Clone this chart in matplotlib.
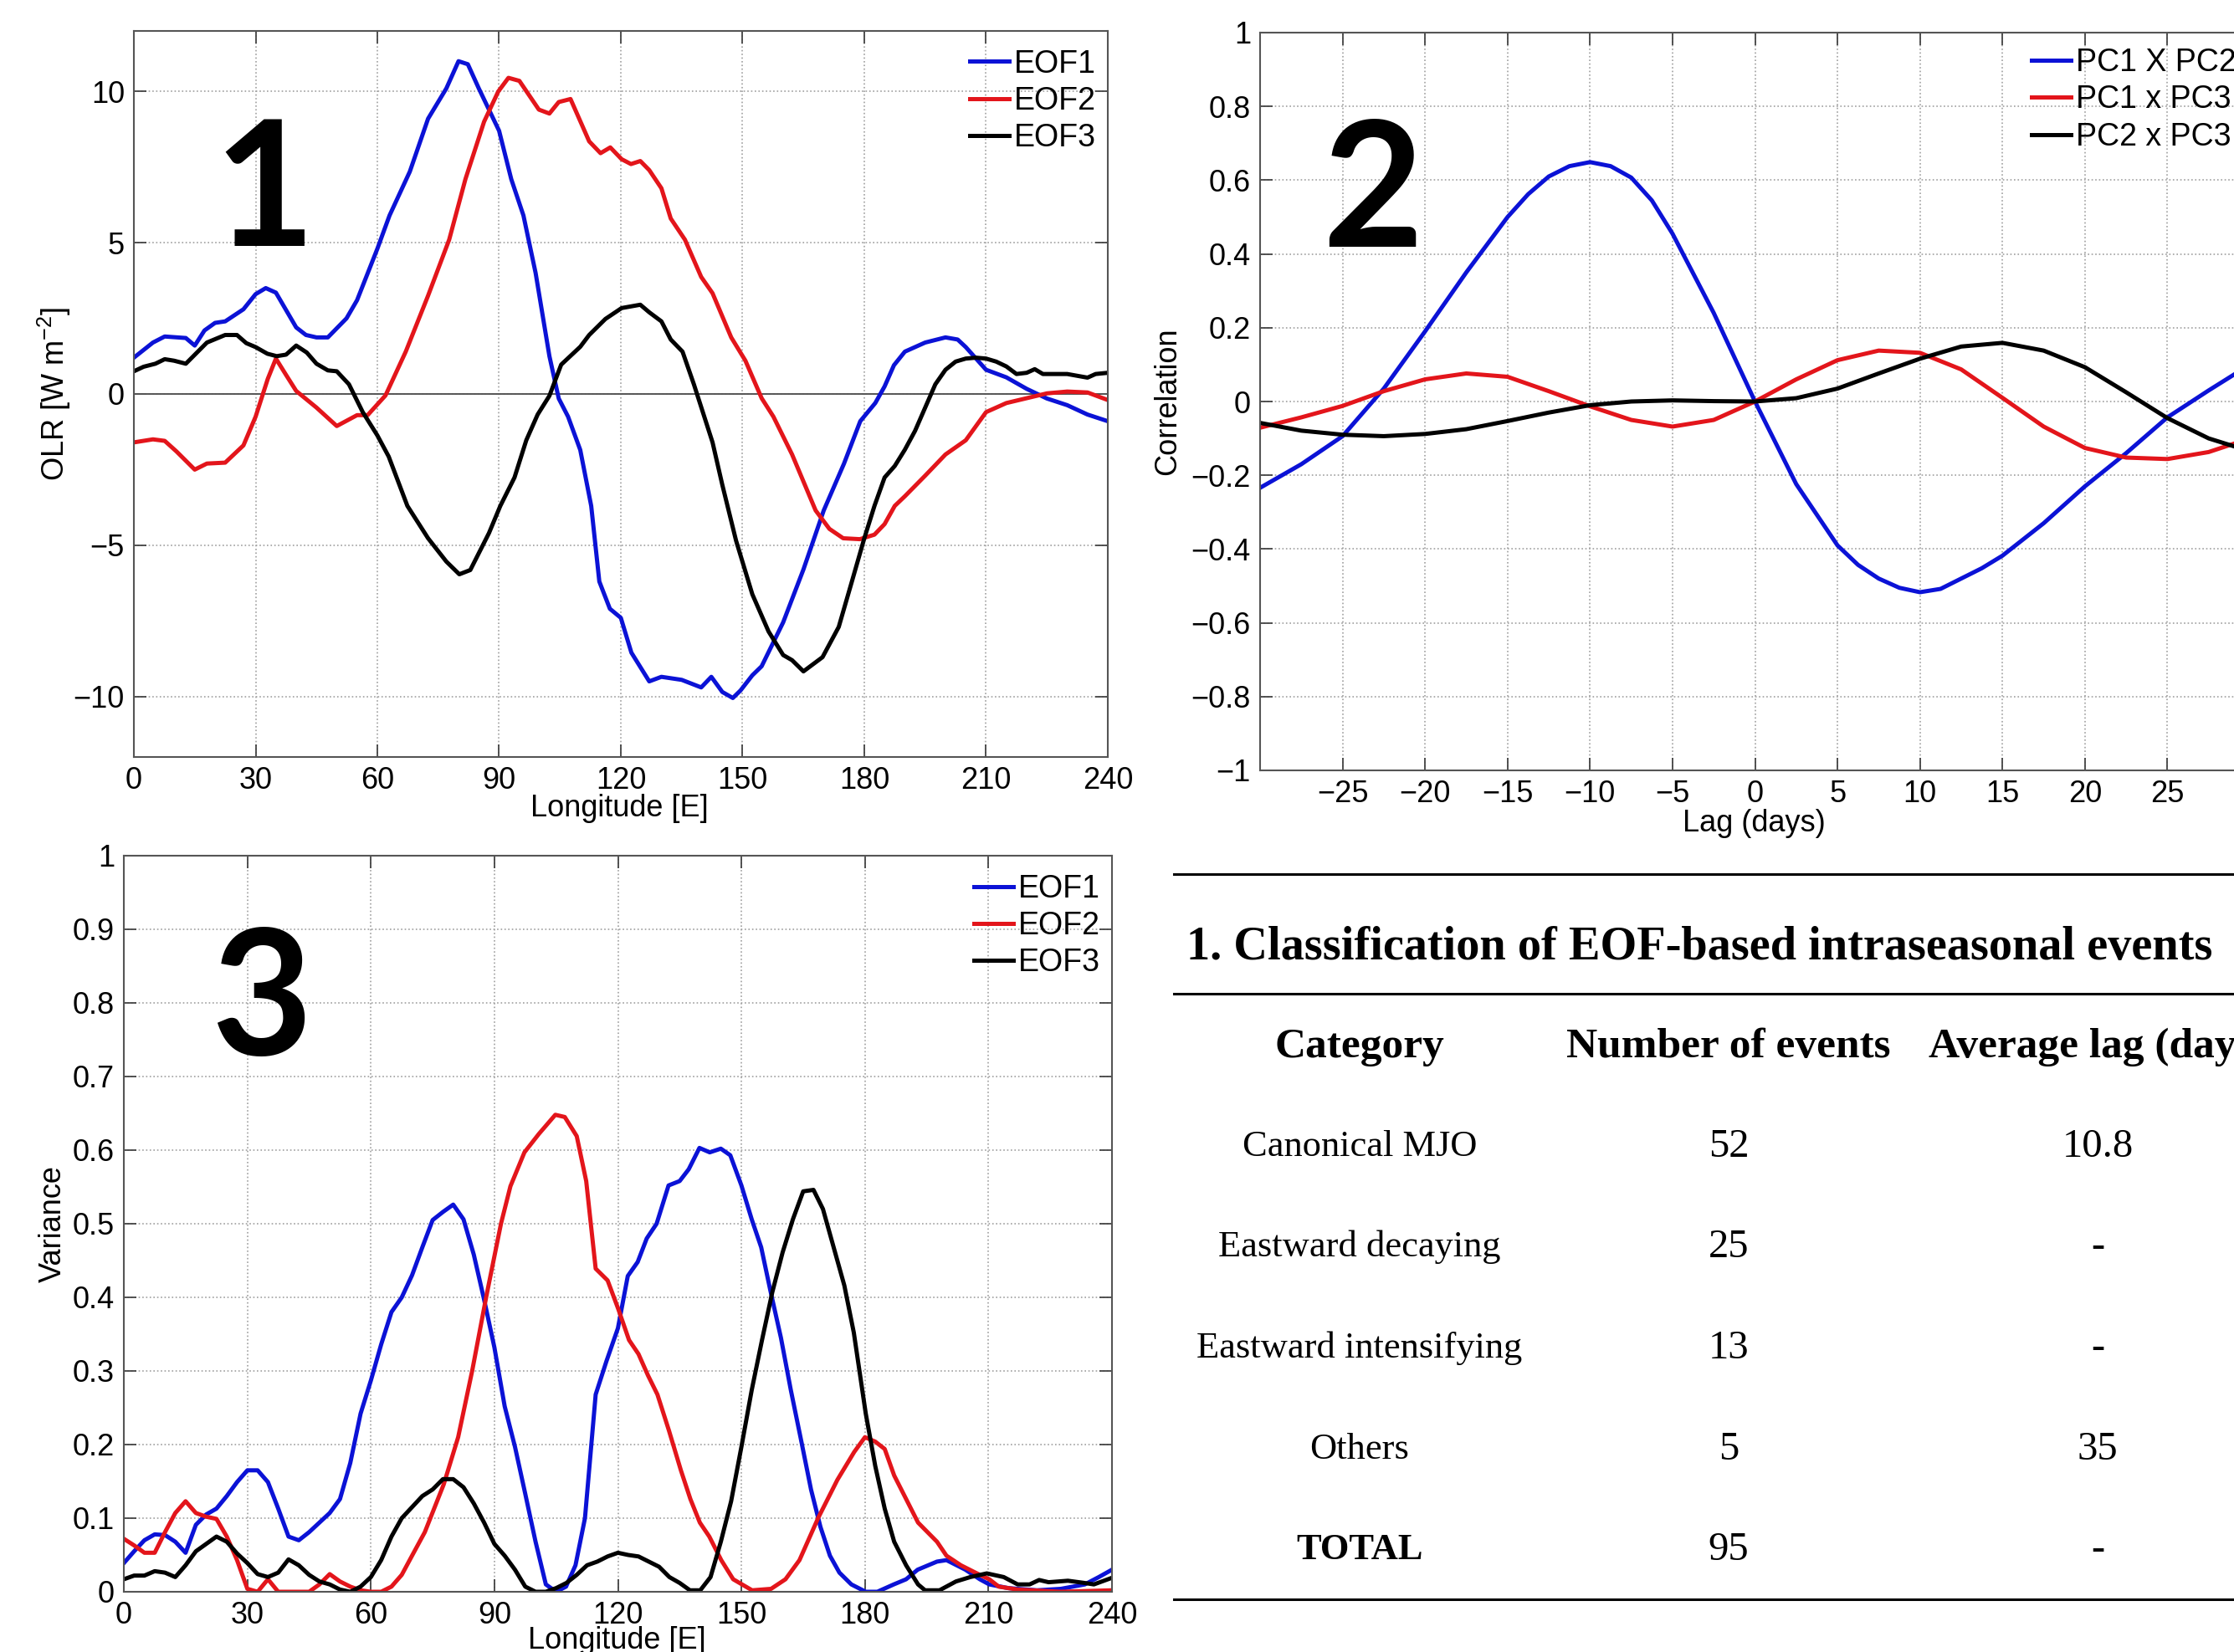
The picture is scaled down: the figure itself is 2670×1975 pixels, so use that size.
import matplotlib
matplotlib.use('Agg')
import matplotlib.pyplot as plt
from matplotlib.lines import Line2D
from matplotlib.ticker import FuncFormatter

plt.rcParams['font.family'] = ['Liberation Sans', 'DejaVu Sans']
plt.rcParams['mathtext.fontset'] = 'custom'
plt.rcParams['mathtext.rm'] = 'Liberation Sans'
plt.rcParams['mathtext.it'] = 'Liberation Sans:italic'

# ---- panel 1: OLR EOF patterns ----
lon_e1 = [0, 4.7, 7.6, 12.8, 15, 17.4, 20, 22.5, 27, 30, 32.5, 35, 40, 42.4, 45, 47.8, 52.4, 55,
          60, 63, 68, 72.5, 77, 80, 82.3, 85, 90, 93, 96, 99, 102.4, 104.7, 107, 110, 112.7,
          114.7, 117.3, 120, 122.6, 127, 130, 135, 139.8, 142.3, 145, 147.6, 149.5, 152.4,
          154.7, 160, 165, 170, 175, 179, 182.7, 185, 187.3, 190, 195, 200, 203, 205, 210,
          215, 220, 225, 230, 235, 240]
olr_e1 = [1.2, 1.7, 1.9, 1.85, 1.6, 2.1, 2.35, 2.4, 2.8, 3.3, 3.5, 3.35, 2.2, 1.95, 1.87, 1.87, 2.5, 3.1,
          4.8, 5.9, 7.35, 9.1, 10.1, 11.0, 10.9, 10.1, 8.7, 7.1, 5.9, 4.0, 1.25, -0.15, -0.75, -1.85, -3.7,
          -6.2, -7.1, -7.4, -8.55, -9.5, -9.35, -9.45, -9.7, -9.35, -9.85, -10.05, -9.8, -9.3,
          -9.0, -7.55, -5.8, -3.85, -2.3, -0.9, -0.3, 0.25, 0.95, 1.4, 1.7, 1.87, 1.8, 1.55, 0.8,
          0.55, 0.17, -0.15, -0.37, -0.68, -0.9]

lon_e2 = [0, 4.7, 7.6, 10.5, 15, 18, 22.5, 27, 30, 33, 35, 37.5, 40, 45, 50, 55, 57.6, 62, 67,
          72.5, 77.7, 81.7, 86.3, 89.8, 92.3, 95, 99.8, 102.4, 104.7, 107.6, 112.2, 115, 117.4,
          120.2, 122.5, 124.8, 127, 130, 132.3, 135.8, 139.8, 142.6, 147.2, 150.7, 154.7, 157.6,
          162.2, 168, 171.4, 174.8, 178.9, 182.5, 185, 187.5, 190, 195, 200, 205, 210, 215, 220,
          225, 230, 235, 240]
olr_e2 = [-1.6, -1.5, -1.55, -1.9, -2.5, -2.3, -2.27, -1.7, -0.75, 0.5, 1.17, 0.63, 0.1, -0.45, -1.06,
          -0.7, -0.7, -0.05, 1.4, 3.25, 5.1, 7.1, 9.0, 10.0, 10.45, 10.35, 9.4, 9.27, 9.65, 9.75, 8.35,
          7.96, 8.15, 7.76, 7.6, 7.7, 7.4, 6.8, 5.8, 5.1, 3.87, 3.33, 1.87, 1.1, -0.14, -0.75, -2.0,
          -3.85, -4.46, -4.77, -4.8, -4.65, -4.3, -3.7, -3.38, -2.7, -2.0, -1.53, -0.6, -0.3, -0.14,
          0.02, 0.08, 0.05, -0.2]

lon_e3 = [0, 2.4, 5.3, 7.6, 9.9, 12.8, 18, 22.5, 25.4, 27.7, 30, 32.9, 35.2, 37.5, 40, 42.6, 45,
          47.8, 50, 53, 56.4, 60, 62.8, 67.4, 72.5, 77, 80.2, 82.9, 87.5, 90.3, 93.8, 96.7, 99.5,
          102.4, 105.3, 110, 112.2, 116.2, 120.2, 124.8, 127, 130, 132.3, 135.2, 138, 142.6, 145,
          148.4, 152.4, 156.4, 160, 162.2, 165, 169.7, 173.7, 177, 180, 182.5, 185, 187.5, 190,
          192.5, 195, 197.5, 200, 202.5, 205, 207.5, 210, 212.5, 215, 217.5, 220, 222, 224, 230,
          235, 237, 240]
olr_e3 = [0.75, 0.9, 1.0, 1.15, 1.1, 1.0, 1.7, 1.95, 1.95, 1.68, 1.55, 1.33, 1.25, 1.3, 1.6, 1.37, 1.0,
          0.78, 0.75, 0.32, -0.6, -1.37, -2.07, -3.7, -4.77, -5.54, -5.96, -5.82, -4.6, -3.7, -2.76,
          -1.53, -0.68, -0.06, 0.97, 1.56, 1.95, 2.48, 2.84, 2.95, 2.7, 2.4, 1.8, 1.4, 0.32, -1.6,
          -3.0, -4.85, -6.62, -7.85, -8.63, -8.8, -9.17, -8.7, -7.7, -6.17, -4.77, -3.7, -2.76,
          -2.38, -1.84, -1.22, -0.45, 0.32, 0.8, 1.07, 1.17, 1.2, 1.17, 1.07, 0.91, 0.66, 0.7, 0.82,
          0.66, 0.66, 0.54, 0.66, 0.7]

# ---- panel 2: lagged correlations ----
lag_12 = [-30, -27.5, -25, -22.5, -20, -17.5, -15, -13.75, -12.5, -11.25, -10, -8.75, -7.5, -6.25,
          -5, -2.5, 0, 2.5, 5, 6.25, 7.5, 8.75, 10, 11.25, 12.5, 13.75, 15, 17.5, 20, 22.5, 25,
          27.5, 30]
corr_pc12 = [-0.234, -0.17, -0.094, 0.035, 0.19, 0.35, 0.50, 0.562, 0.61, 0.638, 0.649, 0.638, 0.607,
             0.545, 0.455, 0.24, 0.0, -0.224, -0.39, -0.443, -0.48, -0.505, -0.517, -0.508, -0.48,
             -0.452, -0.418, -0.33, -0.23, -0.14, -0.043, 0.03, 0.1]

lag = [-30, -27.5, -25, -22.5, -20, -17.5, -15, -12.5, -10, -7.5, -5, -2.5, 0,
       2.5, 5, 7.5, 10, 12.5, 15, 17.5, 20, 22.5, 25, 27.5, 30]
corr_pc13 = [-0.071, -0.043, -0.012, 0.028, 0.06, 0.076, 0.067, 0.028, -0.013, -0.05, -0.068, -0.05, 0.0,
             0.06, 0.112, 0.138, 0.132, 0.087, 0.01, -0.068, -0.126, -0.152, -0.156, -0.137, -0.1]
corr_pc23 = [-0.058, -0.079, -0.09, -0.094, -0.088, -0.075, -0.053, -0.03, -0.01, 0.0, 0.003, 0.001, 0.0,
             0.009, 0.035, 0.076, 0.116, 0.149, 0.159, 0.138, 0.093, 0.025, -0.045, -0.1, -0.135]

# ---- panel 3: explained variance ----
lon_v1 = [0, 2.5, 5, 7.5, 10, 12.5, 15, 17.5, 20, 22.5, 25, 27.5, 30, 32.5, 35, 37.5, 40, 42.5, 45,
          47.5, 50, 52.5, 55, 57.5, 60, 62.5, 65, 67.5, 70, 72.5, 75, 77.5, 80, 82.5, 85, 87.5, 90,
          92.5, 95, 97.5, 100, 102.5, 105, 107.4, 109.7, 112, 114.6, 117.2, 120, 122.4, 124.8, 127,
          129.4, 132.3, 135, 137.2, 139.8, 142.3, 145, 147.3, 150, 152.5, 154.8, 157, 159.6, 162,
          164.6, 166.9, 169.2, 171.5, 173.8, 176.7, 180.2, 183, 187, 190, 192.8, 197.5, 199.8,
          204.4, 207.9, 210.2, 214.8, 221.8, 227.6, 233.4, 236.8, 240]
var_e1 = [0.039, 0.055, 0.07, 0.078, 0.077, 0.068, 0.053, 0.091, 0.105, 0.113, 0.13, 0.149, 0.165, 0.165,
          0.149, 0.113, 0.075, 0.07, 0.081, 0.094, 0.107, 0.126, 0.175, 0.242, 0.287, 0.336, 0.38, 0.4,
          0.43, 0.468, 0.505, 0.516, 0.526, 0.506, 0.458, 0.397, 0.332, 0.252, 0.197, 0.133, 0.068,
          0.01, 0.0, 0.007, 0.036, 0.10, 0.268, 0.313, 0.358, 0.429, 0.448, 0.48, 0.5, 0.552, 0.558,
          0.574, 0.603, 0.597, 0.602, 0.593, 0.552, 0.506, 0.468, 0.41, 0.345, 0.274, 0.203, 0.139,
          0.088, 0.049, 0.026, 0.01, 0.0, 0.0, 0.01, 0.017, 0.03, 0.041, 0.043, 0.03, 0.017, 0.01,
          0.005, 0.002, 0.004, 0.01, 0.02, 0.03]

lon_v2 = [0, 2.5, 5, 7.5, 10, 12.5, 15, 17.5, 20, 22.5, 25, 27.5, 30, 32.5, 35, 37.5, 40, 42.5, 45,
          47.5, 50, 52.5, 55, 57.5, 60, 62.5, 65, 67.5, 70, 73.1, 77.7, 81.2, 84.6, 88.1, 91.6, 93.9,
          97.3, 100.8, 104.8, 107.1, 110, 112.3, 114.6, 117.5, 120.1, 122.7, 125, 127.3, 129.6,
          132.4, 135.3, 137.6, 139.9, 142.2, 145.1, 148, 152.6, 157.2, 160.7, 164.1, 168.7, 173.3,
          177.4, 180, 182.5, 184.8, 187.1, 190, 192.9, 197.5, 199.8, 203.3, 207.9, 210.2, 212.5,
          217.1, 227.5, 240]
var_e2 = [0.072, 0.063, 0.053, 0.053, 0.081, 0.107, 0.123, 0.107, 0.102, 0.099, 0.075, 0.043, 0.004,
          0.0, 0.017, 0.0, 0.0, 0.0, 0.0, 0.01, 0.024, 0.014, 0.007, 0.002, 0.0, 0.0, 0.007, 0.023,
          0.049, 0.081, 0.146, 0.21, 0.30, 0.403, 0.50, 0.551, 0.597, 0.622, 0.648, 0.645, 0.619,
          0.558, 0.439, 0.423, 0.384, 0.342, 0.323, 0.294, 0.268, 0.219, 0.165, 0.126, 0.094, 0.075,
          0.043, 0.017, 0.002, 0.004, 0.017, 0.043, 0.101, 0.152, 0.19, 0.21, 0.204, 0.194, 0.158,
          0.126, 0.094, 0.068, 0.049, 0.036, 0.023, 0.017, 0.007, 0.003, 0.0, 0.002]

lon_v3 = [0, 2.5, 5, 7.5, 10, 12.5, 15, 17.5, 20, 22.5, 25, 27.5, 30, 32.5, 35, 37.5, 40, 42.5, 45,
          47.5, 50, 52.5, 55, 57.5, 60, 62.5, 65, 67.5, 70, 72.5, 75, 77.5, 80, 82.5, 85, 87.5, 90,
          92.5, 95, 97.5, 100, 102.5, 105, 107.5, 110, 112.5, 115, 117.5, 120, 122.5, 125, 127.5,
          130, 132.5, 135, 137.5, 140, 142.5, 145, 147.5, 150, 152.5, 155, 157.5, 160, 162.5, 165,
          167.5, 169.8, 172.1, 175, 177.3, 180.2, 182.5, 184.8, 187.1, 190, 192.9, 194.6, 198.1,
          202.1, 205.6, 209.6, 213.7, 217.1, 220, 222.3, 224.6, 229.3, 233.3, 235.6, 240]
var_e3 = [0.017, 0.022, 0.022, 0.028, 0.026, 0.02, 0.036, 0.055, 0.065, 0.075, 0.068, 0.052, 0.039,
          0.024, 0.02, 0.026, 0.044, 0.036, 0.023, 0.014, 0.01, 0.003, 0.0, 0.007, 0.02, 0.043, 0.075,
          0.10, 0.115, 0.13, 0.139, 0.153, 0.153, 0.142, 0.12, 0.094, 0.065, 0.049, 0.03, 0.007, 0.0,
          0.0, 0.005, 0.012, 0.023, 0.036, 0.041, 0.048, 0.053, 0.05, 0.048, 0.041, 0.034, 0.02,
          0.012, 0.002, 0.002, 0.02, 0.068, 0.123, 0.197, 0.274, 0.342, 0.407, 0.461, 0.506, 0.544,
          0.546, 0.52, 0.474, 0.416, 0.352, 0.242, 0.171, 0.113, 0.068, 0.036, 0.01, 0.002, 0.002,
          0.014, 0.02, 0.025, 0.02, 0.01, 0.01, 0.016, 0.013, 0.015, 0.012, 0.01, 0.019]

# ---- table ----
table_title = '1. Classification of EOF-based intraseasonal events'
table_headers = ['Category', 'Number of events', 'Average lag (days)']
categories = ['Canonical MJO', 'Eastward decaying', 'Eastward intensifying', 'Others', 'TOTAL']
n_events = ['52', '25', '13', '5', '95']
avg_lag = ['10.8', '-', '-', '35', '-']

BLUE = '#0b12d6'
RED = '#e3151b'
BLACK = '#000000'
LW = 3.6
FS = 26

W, H = 2670, 1975
fig = plt.figure(figsize=(W / 100, H / 100), dpi=100)


def add_ax(left, top, right, bottom):
    return fig.add_axes([left / W, 1 - bottom / H, (right - left) / W, (bottom - top) / H])


def style(ax):
    ax.grid(True, linestyle=':', color='#a0a0a0', linewidth=1.2)
    ax.set_axisbelow(True)
    ax.tick_params(direction='in', length=11, width=1.3, top=True, right=True,
                   labelsize=FS, color='#444444', pad=8)
    for s in ax.spines.values():
        s.set_color('#555555')
        s.set_linewidth(1.5)


def legend(ax, labels, anchor):
    handles = [Line2D([], [], color=c, lw=LW) for c in (BLUE, RED, BLACK)]
    ax.legend(handles, labels, loc='upper right', bbox_to_anchor=anchor, frameon=False, fontsize=27,
              handlelength=1.25, handletextpad=0.15, labelspacing=0.22,
              borderaxespad=0.25, borderpad=0.0)


big = dict(fontsize=150, fontweight='bold', family=['Lato', 'DejaVu Sans'], ha='center', va='baseline')

# panel 1
ax1 = add_ax(160, 37, 1324, 905)
style(ax1)
ax1.axhline(0, color='#555555', lw=1.4)
ax1.plot(lon_e1, olr_e1, color=BLUE, lw=LW)
ax1.plot(lon_e2, olr_e2, color=RED, lw=LW)
ax1.plot(lon_e3, olr_e3, color=BLACK, lw=LW)
ax1.set_xlim(0, 240)
ax1.set_ylim(-12, 12)
ax1.set_xticks(range(0, 241, 30))
ax1.set_yticks([-10, -5, 0, 5, 10])
ax1.set_xlabel('Longitude [E]', fontsize=FS)
ax1.set_ylabel(r'OLR [W m$^{-2}$]', fontsize=FS)
ax1.xaxis.label.set_va('center')
ax1.yaxis.label.set_va('center')
ax1.xaxis.set_label_coords(0.499, -0.071)
ax1.yaxis.set_label_coords(-0.082, 0.5)
legend(ax1, ['EOF1', 'EOF2', 'EOF3'], (0.996, 0.986))
ax1.text(0.134, 0.704, '1', transform=ax1.transAxes, **big)

# panel 2 (right edge runs past the figure border, as in the original)
ax2 = add_ax(1506, 39, 2689, 921)
style(ax2)
ax2.plot(lag_12, corr_pc12, color=BLUE, lw=LW)
ax2.plot(lag, corr_pc13, color=RED, lw=LW)
ax2.plot(lag, corr_pc23, color=BLACK, lw=LW)
ax2.set_xlim(-30, 30)
ax2.set_ylim(-1, 1)
ax2.set_xticks(range(-25, 26, 5))
ax2.set_yticks([i / 10 for i in range(-10, 11, 2)])
ax2.yaxis.set_major_formatter(FuncFormatter(lambda v, p: ('%g' % round(v, 1)).replace('-', '\u2212')))
ax2.set_xlabel('Lag (days)', fontsize=FS)
ax2.set_ylabel('Correlation', fontsize=FS)
ax2.xaxis.label.set_va('center')
ax2.yaxis.label.set_va('center')
ax2.xaxis.set_label_coords(0.499, -0.0715)
ax2.yaxis.set_label_coords(-0.093, 0.5)
legend(ax2, ['PC1 X PC2', 'PC1 x PC3', 'PC2 x PC3'], (0.994, 0.99))
ax2.text(0.114, 0.71, '2', transform=ax2.transAxes, **big)

# panel 3
ax3 = add_ax(148, 1023, 1329, 1903)
style(ax3)
ax3.plot(lon_v1, var_e1, color=BLUE, lw=LW)
ax3.plot(lon_v2, var_e2, color=RED, lw=LW)
ax3.plot(lon_v3, var_e3, color=BLACK, lw=LW)
ax3.set_xlim(0, 240)
ax3.set_ylim(0, 1)
ax3.set_xticks(range(0, 241, 30))
ax3.set_yticks([i / 10 for i in range(0, 11)])
ax3.yaxis.set_major_formatter(FuncFormatter(lambda v, p: '%g' % round(v, 1)))
ax3.set_xlabel('Longitude [E]', fontsize=FS)
ax3.set_ylabel('Variance', fontsize=FS)
ax3.xaxis.label.set_va('center')
ax3.yaxis.label.set_va('center')
ax3.xaxis.set_label_coords(0.499, -0.067)
ax3.yaxis.set_label_coords(-0.072, 0.5)
legend(ax3, ['EOF1', 'EOF2', 'EOF3'], (0.996, 0.986))
ax3.text(0.139, 0.7295, '3', transform=ax3.transAxes, **big)


# table drawn in figure pixel space
def fx(x):
    return x / W


def fy(y):
    return 1 - y / H


for y in (1045, 1188, 1912):
    fig.add_artist(Line2D([fx(1403), fx(2670)], [fy(y), fy(y)], color='black', lw=2.2))

serif = ['Liberation Serif', 'DejaVu Serif']
fig.text(fx(1418), fy(1133), table_title, family=serif, fontweight='bold', fontsize=40.5,
         ha='left', va='center')
col_x = [1625, 2066, 2507]
for x, h in zip(col_x, table_headers):
    fig.text(fx(x), fy(1252), h, family=serif, fontweight='bold', fontsize=37, ha='center', va='center')
row_y = [1371, 1491, 1612, 1733, 1853]
for i, y in enumerate(row_y):
    w = 'bold' if categories[i] == 'TOTAL' else 'normal'
    fig.text(fx(col_x[0]), fy(y), categories[i], family=serif, fontweight=w, fontsize=32,
             ha='center', va='center')
    fig.text(fx(col_x[1]), fy(y), n_events[i], family=serif, fontsize=35, ha='center', va='center')
    fig.text(fx(col_x[2]), fy(y), avg_lag[i], family=serif, fontsize=35, ha='center', va='center')

fig.savefig('out.png', dpi=100, facecolor='white')
